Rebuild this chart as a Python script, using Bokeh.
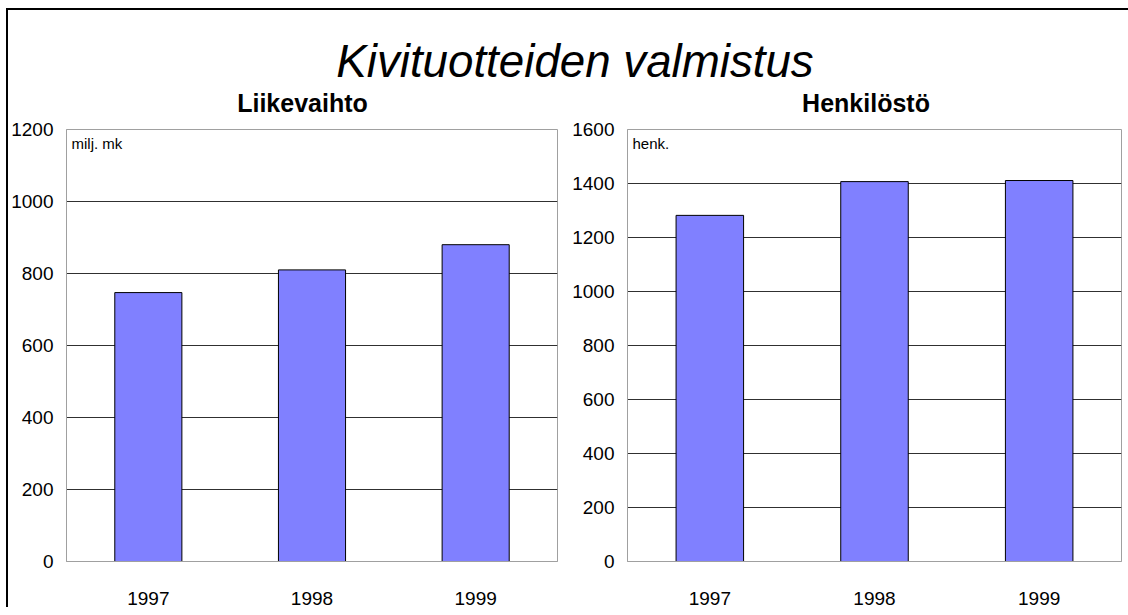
from bokeh.plotting import figure
from bokeh.models import (ColumnDataSource, FactorRange, Range1d, FixedTicker,
                          Label, Column, Row)
from bokeh.embed import file_html
from bokeh.resources import INLINE

# ---------------- data ----------------
years = ["1997", "1998", "1999"]
liikevaihto = [747, 810, 880]          # milj. mk
henkilosto = [1282, 1407, 1411]        # henk.

ticks_left = [0, 200, 400, 600, 800, 1000, 1200]
ticks_right = [0, 200, 400, 600, 800, 1000, 1200, 1400, 1600]

main_title = "Kivituotteiden valmistus"
title_left = "Liikevaihto"
title_right = "Henkilöstö"
unit_left = "milj. mk"
unit_right = "henk."

FONT = "Liberation Sans"
BAR_COLOR = "#8080ff"
FRAME_COLOR = "#a0a0a0"
GRID_COLOR = "#303030"

# ---------------- header ----------------
HW, HH = 1120, 107
header = figure(title=None, frame_width=HW, frame_height=HH,
                x_range=Range1d(0, HW), y_range=Range1d(0, HH),
                x_axis_type=None, y_axis_type=None,
                toolbar_location=None, output_backend="svg", min_border=0,
                min_border_left=0, min_border_right=0, min_border_top=0,
                min_border_bottom=0, outline_line_color=None)
header.xgrid.visible = False
header.ygrid.visible = False
header.add_layout(Label(x=566.5, y=56, text=main_title, text_align="center",
                        text_baseline="alphabetic", text_font=FONT,
                        text_font_size="45.7px", text_font_style="italic",
                        text_color="black"))
header.add_layout(Label(x=294, y=15, text=title_left, text_align="center",
                        text_baseline="alphabetic", text_font=FONT,
                        text_font_size="25px", text_font_style="bold",
                        text_color="black"))
header.add_layout(Label(x=857.5, y=15, text=title_right, text_align="center",
                        text_baseline="alphabetic", text_font=FONT,
                        text_font_size="25px", text_font_style="bold",
                        text_color="black"))


def make_panel(values, ticks, unit, width, border_left, border_right):
    src = ColumnDataSource(dict(year=years, value=values))
    p = figure(title=None, width=width, height=490, x_range=FactorRange(factors=years),
               y_range=Range1d(ticks[0], ticks[-1]), toolbar_location=None,
               output_backend="svg", min_border_left=border_left,
               min_border_right=border_right, min_border_top=12,
               min_border_bottom=45, outline_line_color=FRAME_COLOR,
               background_fill_color="white", border_fill_color="white")
    p.vbar(x="year", top="value", width=0.41, source=src,
           fill_color=BAR_COLOR, line_color="black", line_width=1)

    p.yaxis.ticker = FixedTicker(ticks=ticks)
    p.xgrid.visible = False
    p.ygrid.ticker = FixedTicker(ticks=ticks[1:-1])
    p.ygrid.grid_line_color = GRID_COLOR
    p.ygrid.grid_line_width = 1

    for ax in (p.xaxis[0], p.yaxis[0]):
        ax.axis_line_color = FRAME_COLOR
        ax.major_tick_line_color = None
        ax.minor_tick_line_color = None
        ax.major_label_text_font = FONT
        ax.major_label_text_font_size = "19px"
        ax.major_label_text_color = "black"
    p.yaxis.major_label_standoff = 7
    p.xaxis.major_label_standoff = 24

    p.add_layout(Label(x=0, y=ticks[-1], x_offset=5, y_offset=-5, text=unit,
                       text_baseline="top", text_align="left", text_font=FONT,
                       text_font_size="15px", text_color="black"))
    return p


p1 = make_panel(liikevaihto, ticks_left, unit_left, 557, 54, 8)
p2 = make_panel(henkilosto, ticks_right, unit_right, 563, 62, 7)

layout = Column(header, Row(p1, p2),
                styles={"border-top": "2px solid black",
                        "border-left": "2px solid black",
                        "margin-left": "6px",
                        "margin-top": "8px"})

open("out.html", "w").write(file_html(layout, INLINE))
